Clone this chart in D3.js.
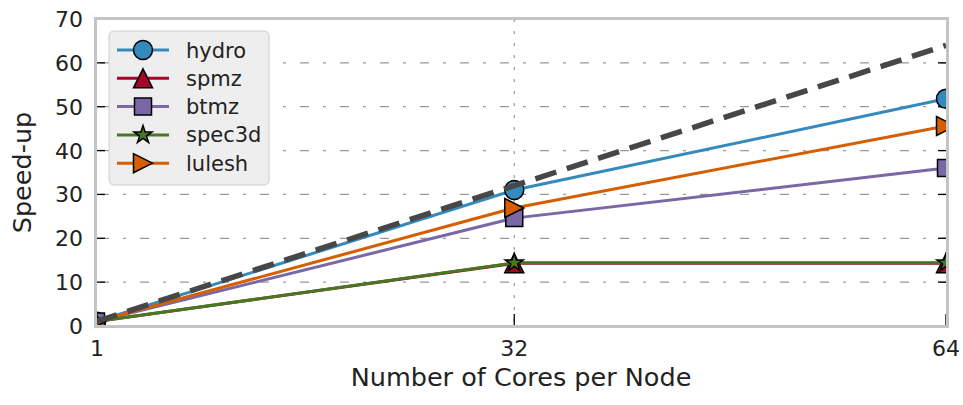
<!DOCTYPE html>
<html><head><meta charset="utf-8">
<script src="https://cdn.jsdelivr.net/npm/d3@7"></script>
<style>body{margin:0;background:#fff}svg{display:block}</style>
</head><body><svg id="c" width="963" height="405"></svg>
<script>
const cores = [1, 32, 64];
const hydro = [1, 31, 51.8];
const spmz = [1, 14.3, 14.3];
const btmz = [1, 24.6, 36];
const spec3d = [1, 14.4, 14.4];
const lulesh = [1, 26.9, 45.6];
const ideal = [1, 64];
const idealX = [1, 64];
const yTicks = [0, 10, 20, 30, 40, 50, 60, 70];
const xTicks = [1, 32, 64];
const names = ["hydro", "spmz", "btmz", "spec3d", "lulesh"];
const colors = ["#348ABD", "#A60628", "#7A68A6", "#467821", "#D55E00"];
const shapes = ["circle", "triup", "square", "star", "triright"];
const seriesVals = [hydro, spmz, btmz, spec3d, lulesh];

const svg = d3.select("#c");
const L = 96, R = 946, T = 19, B = 326;
const x = d3.scaleLinear().domain([1, 64]).range([L, R]);
const y = d3.scaleLinear().domain([0, 70]).range([B, T]);
const font = "'DejaVu Sans', sans-serif";

function shapePath(kind) {
  const s = 9.5;
  if (kind === "circle") return d3.symbol(d3.symbolCircle, Math.PI * 9.5 * 9.5)();
  if (kind === "square") return `M${-8.5},${-8.5}H8.5V8.5H-8.5Z`;
  if (kind === "triup") return `M0,${-s}L${s},${s}L${-s},${s}Z`;
  if (kind === "triright") return `M${s},0L${-s},${s}L${-s},${-s}Z`;
  if (kind === "star") {
    const Ro = 9.5, Ri = Ro * 0.38; let p = "";
    for (let i = 0; i < 10; i++) {
      const r = i % 2 ? Ri : Ro, a = -Math.PI / 2 + i * Math.PI / 5;
      p += (i ? "L" : "M") + (r * Math.cos(a)).toFixed(2) + "," + (r * Math.sin(a)).toFixed(2);
    }
    return p + "Z";
  }
}

svg.append("defs").append("clipPath").attr("id", "clip")
  .append("rect").attr("x", L).attr("y", T).attr("width", R - L + 1).attr("height", B - T);

// grid
const g = svg.append("g");
g.selectAll("line.hg").data(yTicks.filter(v => v > 0 && v < 70)).enter().append("line")
  .attr("x1", L).attr("x2", R).attr("y1", d => y(d)).attr("y2", d => y(d))
  .attr("stroke", "#9a9a9a").attr("stroke-width", 1.2).attr("stroke-dasharray", "9,14,3,14")
  .attr("stroke-dashoffset", -4);
g.selectAll("line.vg").data([32]).enter().append("line")
  .attr("x1", d => x(d)).attr("x2", d => x(d)).attr("y1", T).attr("y2", B)
  .attr("stroke", "#9a9a9a").attr("stroke-width", 1.2).attr("stroke-dasharray", "3,9");

// ticks (inward)
const tk = svg.append("g").attr("stroke", "#000").attr("stroke-width", 1.3);
yTicks.forEach(v => {
  tk.append("line").attr("x1", L).attr("x2", L + 9).attr("y1", y(v)).attr("y2", y(v));
  tk.append("line").attr("x1", R + 1 - 9).attr("x2", R + 1).attr("y1", y(v)).attr("y2", y(v));
});
xTicks.forEach(v => {
  tk.append("line").attr("x1", x(v)).attr("x2", x(v)).attr("y1", B).attr("y2", B - 12);
});

// series
const plot = svg.append("g").attr("clip-path", "url(#clip)");
const line = d3.line().x((d, i) => x(cores[i])).y(d => y(d));
seriesVals.forEach((vals, k) => {
  plot.append("path").attr("d", line(vals)).attr("fill", "none")
    .attr("stroke", colors[k]).attr("stroke-width", 3);
  plot.selectAll(null).data(vals).enter().append("path")
    .attr("d", shapePath(shapes[k]))
    .attr("transform", (d, i) => `translate(${x(cores[i])},${y(d)})`)
    .attr("fill", colors[k]).attr("stroke", "#000").attr("stroke-width", 1.5);
});
plot.append("path")
  .attr("d", d3.line().x((d, i) => x(idealX[i])).y(d => y(d))(ideal))
  .attr("fill", "none").attr("stroke", "#474747").attr("stroke-width", 5.5)
  .attr("stroke-dasharray", "22,11");

// frame
svg.append("rect").attr("x", L - 0.5).attr("y", T - 0.5).attr("width", R - L + 2).attr("height", B - T + 1)
  .attr("fill", "none").attr("stroke", "#c4c4c4").attr("stroke-width", 3);

// tick labels
svg.selectAll("text.yt").data(yTicks).enter().append("text")
  .attr("x", 83).attr("y", d => y(d) + 8).attr("text-anchor", "end")
  .attr("font-family", font).attr("font-size", 22).attr("fill", "#222").text(d => d);
svg.selectAll("text.xt").data(xTicks).enter().append("text")
  .attr("x", d => x(d) + (d === 1 ? 1 : 0)).attr("y", 356).attr("text-anchor", "middle")
  .attr("font-family", font).attr("font-size", 22).attr("fill", "#222").text(d => d);

svg.append("text").attr("x", (L + R) / 2).attr("y", 386).attr("text-anchor", "middle")
  .attr("font-family", font).attr("font-size", 25.5).attr("fill", "#222").text("Number of Cores per Node");
svg.append("text").attr("transform", `translate(31,${(T + B) / 2}) rotate(-90)`).attr("text-anchor", "middle")
  .attr("font-family", font).attr("font-size", 25.5).attr("fill", "#222").text("Speed-up");

// legend
const lg = svg.append("g");
lg.append("rect").attr("x", 109).attr("y", 31).attr("width", 160).attr("height", 154).attr("rx", 5)
  .attr("fill", "#eeeeee").attr("stroke", "#cccccc").attr("stroke-width", 1);
names.forEach((n, k) => {
  const yy = 50 + k * 28.3;
  lg.append("line").attr("x1", 117).attr("x2", 169).attr("y1", yy).attr("y2", yy)
    .attr("stroke", colors[k]).attr("stroke-width", 3);
  lg.append("path").attr("d", shapePath(shapes[k])).attr("transform", `translate(143,${yy})`)
    .attr("fill", colors[k]).attr("stroke", "#000").attr("stroke-width", 1.5);
  lg.append("text").attr("x", 186).attr("y", yy + 7.5).attr("font-family", font).attr("font-size", 21)
    .attr("fill", "#222").text(n);
});
</script></body></html>
